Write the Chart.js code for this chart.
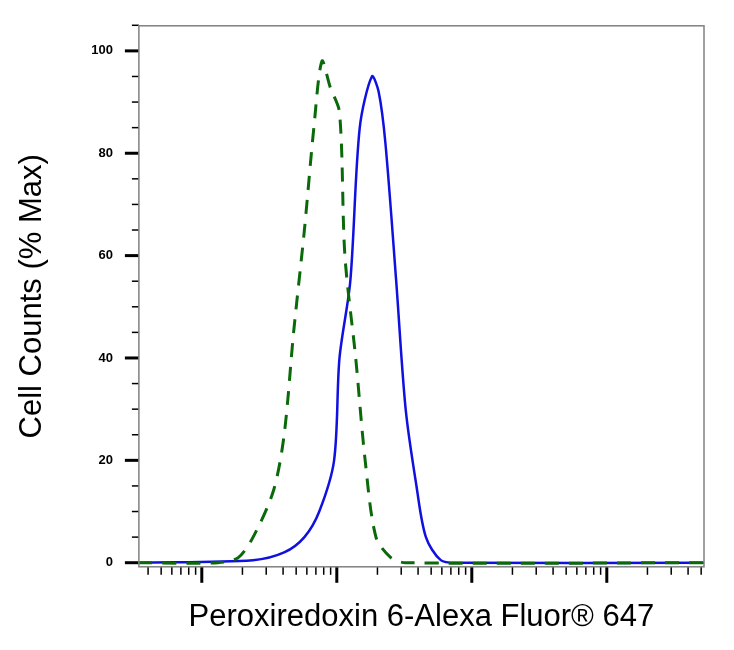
<!DOCTYPE html>
<html>
<head>
<script src="https://cdn.jsdelivr.net/npm/chart.js@4"></script>
<style>
body { margin: 0; background: #fff; }
</style>
</head>
<body>
<canvas id="c" width="734" height="650"></canvas>
<script>
// x values are log10 of fluorescence intensity
const isotypeX = [0.53, 1.12, 1.27, 1.38, 1.53, 1.61, 1.68, 1.76, 1.83, 1.89, 1.95, 2.02, 2.06, 2.14, 2.21, 2.29, 2.40, 2.51, 4.72];
const isotypeY = [0, 0, 1, 5, 14, 25, 45, 65, 85, 98, 93, 88, 60, 40, 20, 5, 1, 0, 0];
const stainedX = [0.53, 1.38, 1.61, 1.76, 1.87, 1.98, 2.02, 2.10, 2.17, 2.26, 2.31, 2.36, 2.44, 2.51, 2.59, 2.66, 2.77, 2.89, 4.72];
const stainedY = [0, 0.5, 2, 5, 10, 20, 40, 55, 85, 95, 92, 82, 55, 30, 15, 5, 0.5, 0, 0];
const yLabels = [0, 20, 40, 60, 80, 100];

const pts = (xs, ys) => xs.map((x, i) => ({ x: x, y: ys[i] }));

const tickPlugin = {
  id: 'ticks',
  afterDraw(chart) {
    const ctx = chart.ctx, xs = chart.scales.x, ys = chart.scales.y;
    const a = chart.chartArea;
    ctx.save();
    ctx.strokeStyle = '#000';
    // x ticks: decades and minors
    for (let d = 0; d <= 4; d++) {
      for (let k = 1; k <= 9; k++) {
        const v = d + Math.log10(k);
        if (v < xs.min || v > xs.max) continue;
        const px = xs.getPixelForValue(v);
        ctx.lineWidth = k === 1 ? 3 : 1.5;
        ctx.beginPath();
        ctx.moveTo(px, a.bottom);
        ctx.lineTo(px, a.bottom + (k === 1 ? 16 : 8));
        ctx.stroke();
      }
    }
    // y ticks every 5
    for (let v = 0; v <= 105; v += 5) {
      const py = ys.getPixelForValue(v);
      const major = v % 20 === 0;
      ctx.lineWidth = major ? 3 : 1.5;
      ctx.beginPath();
      ctx.moveTo(a.left - (major ? 14 : 7), py);
      ctx.lineTo(a.left, py);
      ctx.stroke();
    }
    // frame
    ctx.strokeStyle = '#808080';
    ctx.lineWidth = 1.5;
    ctx.strokeRect(a.left, a.top, a.right - a.left, a.bottom - a.top);
    ctx.restore();
  }
};

new Chart(document.getElementById('c'), {
  type: 'scatter',
  data: {
    datasets: [
      { data: pts(isotypeX, isotypeY), showLine: true, pointRadius: 0, borderColor: '#0a6a0a', borderWidth: 3, borderDash: [14, 10], tension: 0.3 },
      { data: pts(stainedX, stainedY), showLine: true, pointRadius: 0, borderColor: '#1010e0', borderWidth: 2.5, tension: 0.3 }
    ]
  },
  options: {
    responsive: false,
    animation: false,
    devicePixelRatio: 1,
    layout: { padding: { left: 10, right: 30, top: 10, bottom: 10 } },
    plugins: { legend: { display: false }, tooltip: { enabled: false } },
    scales: {
      x: {
        type: 'linear', min: 0.534, max: 4.72,
        grid: { display: false }, border: { display: false },
        ticks: { display: false },
        title: { display: true, text: 'Peroxiredoxin 6-Alexa Fluor® 647', color: '#000', font: { family: 'Liberation Sans', size: 31 }, padding: { top: 24 } }
      },
      y: {
        min: -0.8, max: 104.9,
        grid: { display: false }, border: { display: false },
        afterBuildTicks: s => { s.ticks = yLabels.map(v => ({ value: v })); },
        ticks: { color: '#000', font: { family: 'Liberation Sans', size: 13, weight: 'bold' }, padding: 18 },
        title: { display: true, text: 'Cell Counts (% Max)', color: '#000', font: { family: 'Liberation Sans', size: 31 }, padding: { bottom: 22 } }
      }
    }
  },
  plugins: [tickPlugin]
});
</script>
</body>
</html>
